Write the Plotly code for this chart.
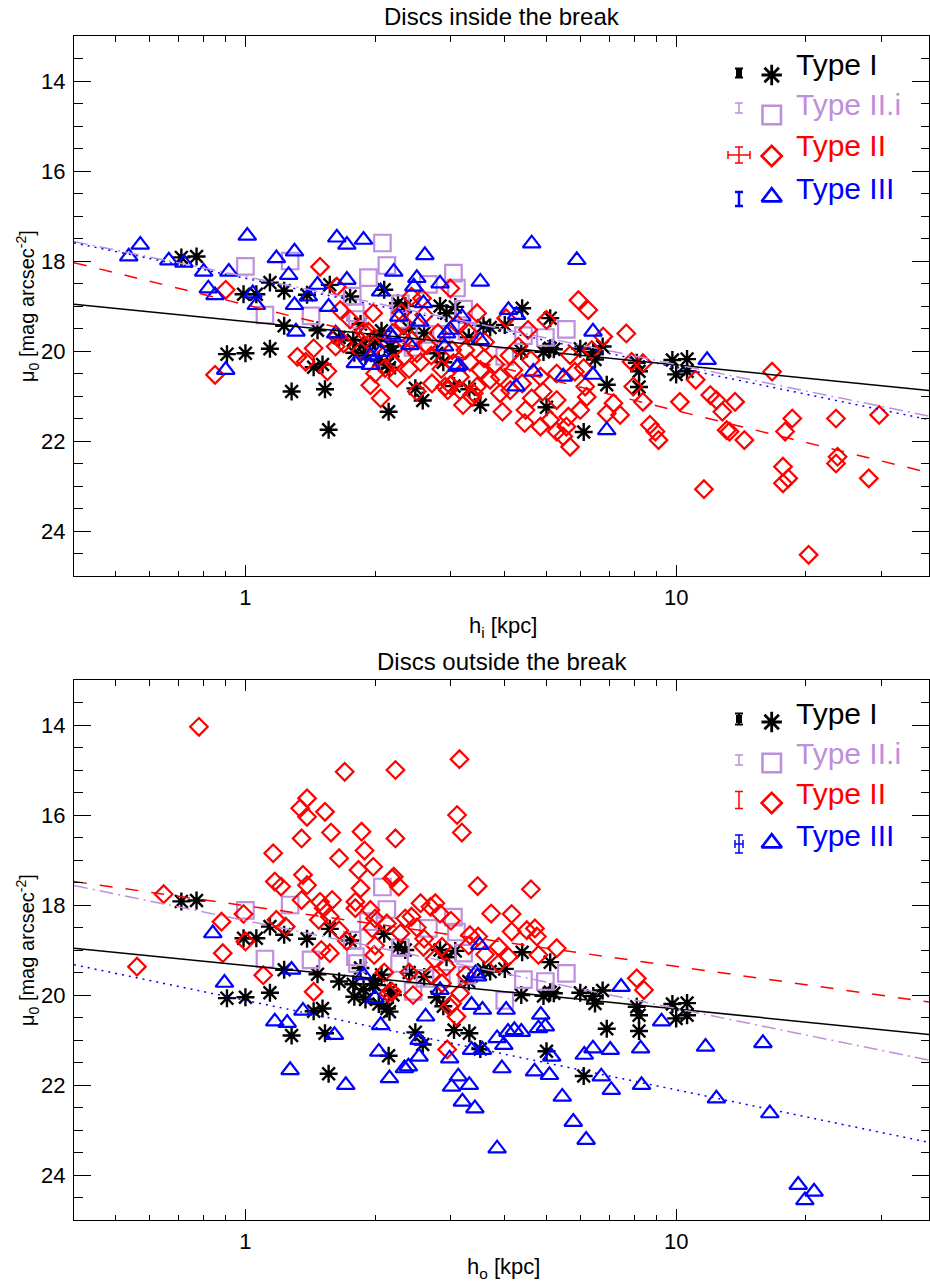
import numpy as np
import plotly.graph_objects as go

# ---------------- data (h [kpc], mu0 [mag arcsec^-2]) ----------------
TYPE_I = [(0.71,17.92),(0.77,17.9),(0.99,18.74),(1.06,18.74),(1.14,18.48),(1.23,18.66),(1.39,18.75),
          (1.57,18.53),(1.23,19.44),(1.47,19.54),(0.906,20.07),(1.0,20.05),(1.14,19.95),(1.28,20.9),
          (1.53,20.85),(1.44,20.36),(1.51,20.3),(1.56,21.75),(2.15,21.35),(2.48,20.83),(2.58,21.1),
          (1.75,18.79),(1.78,19.76),(1.88,19.87),(1.98,19.76),(2.07,19.55),(2.17,19.9),(2.04,20.2),
          (2.13,20.3),(2.1,18.64),(2.26,18.94),(2.35,19.0),(2.83,19.0),(2.93,19.16),(2.78,20.05),
          (2.88,20.25),(3.07,19.02),(4.39,19.05),(5.1,19.27),(3.57,19.44),(3.7,19.48),(4.0,19.42),
          (4.92,20.02),(5.1,19.94),(5.99,19.95),(6.42,20.02),(6.9,20.75),(8.1,20.26),(8.2,20.8),
          (9.8,20.2),(10.6,20.18),(10.0,20.52),(10.6,20.45),(3.51,21.2),(5.0,21.25),(6.1,21.8),
          (8.2,20.45),(6.75,19.9),(3.05,20.78),(3.31,20.85),(4.37,20.0),(5.2,19.96),(2.0,19.78),
          (1.79,20.04),(2.16,20.37),(6.48,20.19),(1.65,19.7),(1.9,20.1),(2.4,19.5),(2.6,19.6),
          (3.3,19.7),(2.2,20.0),(1.85,19.4)]

TYPE_IIi = [(1.0,18.12),(1.11,19.2),(1.27,18.0),(1.42,19.22),(1.93,18.37),(2.08,17.6),(2.13,18.1),
            (1.77,18.78),(1.8,19.15),(1.82,19.3),(2.29,18.95),(2.28,19.3),(2.66,18.52),(3.04,18.27),
            (3.09,18.6),(3.21,19.07),(2.45,19.92),(2.61,19.63),(2.85,19.63),(3.27,19.56),(4.0,20.12),
            (4.42,19.66),(4.97,19.7),(5.56,19.52)]

TYPE_II_IN = [(0.85,20.53),(0.9,18.64),(1.49,18.13),(1.32,20.13),(1.38,20.24),(1.44,19.94),(1.62,19.9),
              (1.69,19.83),(1.95,20.76),(2.06,21.05),(1.93,19.57),(2.11,20.38),(2.71,20.72),(2.91,20.79),
              (2.99,18.61),(3.32,20.24),(3.39,20.94),(3.45,19.16),(1.63,19.68),(1.63,18.57),(1.66,19.09),
              (1.98,19.16),(2.33,19.76),(2.43,18.79),(2.57,18.83),(3.04,20.27),(2.5,20.05),(2.64,19.87),
              (3.02,19.98),(1.88,19.57),(2.33,19.39),(2.95,20.87),(3.15,20.57),(2.43,19.76),(2.33,20.13),
              (2.21,20.27),(5.93,18.87),(6.25,19.09),(7.66,19.61),(5.0,19.31),(6.77,19.68),(6.37,19.98),
              (5.67,20.09),(7.88,20.24),(8.37,20.27),(7.95,20.79),(8.37,21.13),(8.69,21.64),(8.95,21.79),
              (9.1,21.98),(7.15,21.16),(7.41,21.42),(6.9,21.39),(6.2,21.02),(5.99,21.31),(5.62,21.46),
              (5.56,21.68),(5.47,21.9),(5.67,22.13),(4.84,21.68),(5.1,21.53),(5.28,21.09),(4.47,21.31),
              (4.62,21.05),(4.39,20.72),(4.12,20.87),(3.9,20.94),(4.19,20.42),(3.9,20.57),(3.7,20.64),
              (3.45,20.79),(3.36,21.02),(3.51,20.42),(3.58,20.16),(3.24,19.98),(2.99,20.76),(3.15,20.87),
              (5.28,20.5),(5.82,20.46),(6.1,20.38),(6.15,20.79),(4.84,20.57),(5.28,21.79),(4.53,19.53),
              (4.03,19.27),(16.7,20.46),(11.1,20.64),(10.2,21.13),(12.0,20.98),(12.4,21.09),(13.7,21.13),
              (12.8,21.35),(13.1,21.76),(13.3,21.79),(14.4,21.98),(18.6,21.5),(17.9,21.79),(23.5,21.5),
              (29.6,21.42),(23.7,22.35),(23.5,22.5),(17.7,22.57),(18.2,22.83),(17.7,22.94),(28.0,22.83),
              (11.6,23.07),(20.3,24.53),(1.75,19.3),(1.85,20.0),(2.0,19.9),(2.2,19.6),(2.25,20.6),
              (2.4,20.4),(2.55,20.25),(2.7,20.1),(2.8,19.6),(2.85,20.4),(3.1,19.4),(3.3,19.6),(3.6,19.8),
              (3.8,20.3),(4.1,20.1),(4.3,19.9),(4.6,20.2),(4.9,20.9),(2.3,19.15),(2.6,19.2),(1.55,20.45),
              (2.0,20.5),(3.2,21.2),(2.5,20.9),(4.45,21.6),(3.95,21.35)]

TYPE_III_IN = [(0.536,17.9),(0.57,17.64),(0.664,17.99),(0.72,18.04),(0.8,18.24),(0.82,18.61),(0.85,18.76),
               (0.915,18.24),(1.01,17.44),(1.04,18.72),(1.06,18.98),(0.9,20.42),(1.18,17.94),(1.3,17.79),
               (1.26,18.31),(1.3,18.98),(1.31,19.57),(1.4,18.79),(1.47,18.53),(1.56,19.02),(1.62,19.61),
               (1.63,17.48),(1.72,17.64),(1.88,17.53),(1.72,18.42),(1.8,20.27),(1.95,20.31),(2.06,18.68),
               (2.06,20.02),(2.21,18.24),(2.17,19.64),(2.27,19.24),(2.61,17.87),(2.5,18.38),(2.59,18.94),
               (2.54,19.35),(2.41,19.87),(2.83,18.5),(3.13,20.31),(3.51,18.46),(3.18,19.24),(2.46,18.57),
               (2.99,19.53),(3.1,20.35),(4.62,17.61),(5.88,17.98),(4.08,19.09),(4.26,19.2),(2.93,19.61),
               (6.41,19.57),(4.66,20.46),(5.47,20.57),(6.41,20.53),(4.25,20.79),(6.9,21.76),(11.8,20.2),
               (3.51,19.76),(2.9,19.9),(2.2,19.7),(1.95,20.1)]

TYPE_II_OUT = [(0.78,14.04),(0.646,17.76),(0.56,19.37),(0.88,18.37),(0.886,19.07),(0.99,18.2),(1.0,18.81),
               (1.1,19.56),(1.17,17.48),(1.21,17.59),(1.16,16.85),(1.18,18.33),(1.24,18.48),(1.35,16.52),
               (1.34,15.85),(1.39,15.63),(1.39,16.04),(1.53,15.93),(1.58,16.39),(1.65,16.96),(1.7,15.04),
               (1.86,16.37),(1.89,16.79),(1.98,17.15),(1.83,17.22),(2.23,15.0),(2.23,16.52),(1.36,17.33),
               (1.39,17.56),(1.35,17.89),(1.49,17.93),(1.59,17.89),(1.52,18.07),(1.57,18.26),(1.48,18.33),
               (1.65,18.56),(1.5,19.0),(1.57,19.07),(1.44,19.93),(1.8,17.93),(1.85,17.63),(1.8,18.07),
               (1.95,18.11),(1.97,18.52),(2.19,17.41),(1.99,19.11),(2.19,19.93),(3.14,14.76),(3.1,16.0),
               (3.18,16.39),(3.46,17.58),(4.6,17.65),(2.21,17.37),(2.27,17.59),(3.72,18.19),(4.15,18.2),
               (4.15,18.59),(4.5,18.56),(4.7,18.52),(4.75,18.7),(5.28,18.96),(3.87,18.93),(4.08,19.15),
               (4.79,19.11),(2.55,17.96),(2.69,18.04),(2.76,17.96),(2.83,18.19),(2.43,18.26),(2.29,18.63),
               (2.13,18.41),(2.59,18.93),(2.86,18.93),(3.32,18.67),(3.47,18.7),(3.87,19.3),(2.93,19.37),
               (2.86,19.74),(2.15,19.96),(3.02,20.19),(3.15,19.96),(8.1,19.63),(2.94,21.21),(2.98,20.26),
               (3.09,20.48),(8.42,19.89),(2.35,18.3),(2.5,18.5),(2.6,18.75),(2.75,19.2),(2.4,19.5),
               (3.0,18.35),(3.3,18.9),(3.6,19.1),(2.0,18.9),(2.1,19.5),(2.45,20.0),(2.7,19.55),(3.25,19.55),
               (2.0,18.3),(1.72,18.8)]

TYPE_III_OUT = [(0.84,18.63),(0.894,19.73),(1.28,19.44),(1.88,19.56),(2.0,20.07),(1.36,20.35),(1.17,20.59),
                (1.25,20.62),(1.61,20.89),(1.27,21.67),(1.71,22.0),(2.06,20.67),(2.04,21.26),(2.16,21.85),
                (2.34,21.63),(2.39,21.59),(2.53,21.37),(2.53,21.0),(2.62,20.48),(2.98,21.41),(3.12,21.81),
                (3.01,22.04),(3.31,22.0),(3.19,22.37),(3.41,22.52),(3.35,21.22),(3.55,21.22),(3.35,20.22),
                (3.55,20.33),(3.46,19.59),(3.84,20.96),(3.98,21.11),(4.03,20.33),(4.07,20.82),(4.21,20.78),
                (4.37,20.82),(3.84,23.41),(3.94,21.63),(4.69,21.7),(4.85,20.44),(4.79,20.74),(4.97,20.7),
                (5.08,21.78),(5.14,21.37),(5.44,22.26),(5.77,22.82),(6.18,23.22),(6.12,21.33),(6.41,21.19),
                (7.03,21.22),(6.7,21.81),(7.07,22.11),(8.27,21.19),(8.31,22.0),(7.45,19.82),(9.25,20.59),
                (11.7,21.15),(15.9,21.07),(12.4,22.3),(16.5,22.63),(19.2,24.22),(20.9,24.37),(19.9,24.56),
                (3.5,18.89),(3.42,19.52),(2.83,19.89)]

# linear fits mu0 = a + b*log10(h): (a, b)
FIT_I = (19.344, 0.967)
FIT_IIi = (18.346, 1.954)
FIT_II_IN = (18.973, 2.351)
FIT_III_IN = (18.385, 1.979)
FIT_II_OUT = (18.016, 1.349)
FIT_III_OUT = (20.119, 1.989)

LABELS = ["Type I", "Type II.i", "Type II", "Type III"]
TITLES = ["Discs inside the break", "Discs outside the break"]
XTITLES = ["h<sub>i</sub> [kpc]", "h<sub>o</sub> [kpc]"]
YTITLE = "μ<sub>0</sub> [mag arcsec<sup>-2</sup>]"

# ---------------- styles ----------------
BLACK, PURPLE, RED, BLUE = "#000000", "#BE8FDD", "#FF0000", "#0000FF"
FONT = "Liberation Sans, Arial, Helvetica, sans-serif"
STY = {
    "I":   dict(color=BLACK,  symbol="asterisk-open",    size=15, lw=2.4),
    "IIi": dict(color=PURPLE, symbol="square-open",      size=16.5, lw=2.2),
    "II":  dict(color=RED,    symbol="diamond-open",     size=13.5, lw=2.2),
    "III": dict(color=BLUE,   symbol="triangle-up-open", size=15.5, lw=2.2),
}
LINE_STY = {"I": "solid", "IIi": "14px,5px,2px,5px", "II": "13px,13px", "III": "2px,5px"}
XLOG = (-0.398, 1.587)

# plot area in pixels (figure 930 x 1281)
L, R, T, B = 74, 929, 36, 1220
def px(x):
    return (x - L) / (R - L)
def py(y):
    return (B - y) / (B - T)

fig = go.Figure()

def scatter(pts, key, xa, ya):
    s = STY[key]
    fig.add_trace(go.Scatter(
        x=[p[0] for p in pts], y=[p[1] for p in pts], mode="markers",
        xaxis=xa, yaxis=ya, hoverinfo="skip", cliponaxis=True,
        marker=dict(symbol=s["symbol"], size=s["size"], color=s["color"],
                    line=dict(color=s["color"], width=s["lw"]))))

def fitline(fit, key, xa, ya):
    xs = np.array([10 ** XLOG[0], 10 ** XLOG[1]])
    ys = fit[0] + fit[1] * np.log10(xs)
    fig.add_trace(go.Scatter(x=xs, y=ys, mode="lines", xaxis=xa, yaxis=ya, hoverinfo="skip",
                             line=dict(color=STY[key]["color"], width=1.5, dash=LINE_STY[key])))

panels = [("x", "y", TYPE_II_IN, TYPE_III_IN, FIT_II_IN, FIT_III_IN),
          ("x2", "y2", TYPE_II_OUT, TYPE_III_OUT, FIT_II_OUT, FIT_III_OUT)]
for xa, ya, t2, t3, f2, f3 in panels:
    scatter(TYPE_I, "I", xa, ya)
    scatter(TYPE_IIi, "IIi", xa, ya)
    scatter(t2, "II", xa, ya)
    scatter(t3, "III", xa, ya)
    fitline(FIT_I, "I", xa, ya)
    fitline(f2, "II", xa, ya)
    fitline(FIT_IIi, "IIi", xa, ya)
    fitline(f3, "III", xa, ya)

# ---------------- legend (pixel-space overlay axis x3/y3) ----------------
# rows: key, errbar (cx, cy, ex, ey, capw, thick), marker y, text y
LEGENDS = [
    [("I",   (739, 73, 2, 4.5, 4, 2.0), 75, 65),
     ("IIi", (739, 108, 0, 5, 4, 1.5), 115, 105),
     ("II",  (739, 155, 11, 8, 4, 1.5), 156, 146),
     ("III", (739, 199, 0, 7, 4, 2.5), 197, 188)],
    [("I",   (739, 719, 2, 5.5, 4, 2.0), 722, 713),
     ("IIi", (739, 760, 0, 5, 4, 1.5), 763, 754),
     ("II",  (739, 800, 0, 8.5, 4, 1.5), 803, 794),
     ("III", (739, 844, 4, 9, 4, 1.5), 843, 835)],
]
annotations = []
for rows in LEGENDS:
    for (key, eb, my, ty), lab in zip(rows, LABELS):
        c = STY[key]["color"]
        cx, cy, ex, ey, cw, th = eb
        fig.add_trace(go.Scatter(
            x=[cx], y=[cy], mode="markers", xaxis="x3", yaxis="y3", hoverinfo="skip",
            marker=dict(size=1, color="rgba(0,0,0,0)"),
            error_x=dict(type="data", array=[ex], visible=ex > 0, color=c, thickness=th, width=cw),
            error_y=dict(type="data", array=[ey], visible=True, color=c, thickness=th, width=cw)))
        s = STY[key]
        fig.add_trace(go.Scatter(
            x=[771.7], y=[my], mode="markers", xaxis="x3", yaxis="y3", hoverinfo="skip",
            marker=dict(symbol=s["symbol"], size=s["size"] + 2, color=c,
                        line=dict(color=c, width=s["lw"] + 0.4))))
        annotations.append(dict(x=px(794), y=py(ty), xref="paper", yref="paper", text=lab,
                                showarrow=False, xanchor="left", yanchor="middle",
                                font=dict(family=FONT, size=30, color=c)))

# titles and axis labels (paper coords so they can sit in the margins)
for title, xt, ty, xl_y, yl_y in [(TITLES[0], XTITLES[0], 17, 627, 306),
                                   (TITLES[1], XTITLES[1], 661, 1268, 950)]:
    annotations.append(dict(x=px(501.5), y=py(ty), xref="paper", yref="paper", text=title,
                            showarrow=False, xanchor="center", yanchor="middle",
                            font=dict(family=FONT, size=24, color="black")))
    annotations.append(dict(x=px(503), y=py(xl_y), xref="paper", yref="paper", text=xt,
                            showarrow=False, xanchor="center", yanchor="middle",
                            font=dict(family=FONT, size=22, color="black")))
    annotations.append(dict(x=px(27), y=py(yl_y), xref="paper", yref="paper", text=YTITLE,
                            showarrow=False, textangle=-90, xanchor="center", yanchor="middle",
                            font=dict(family=FONT, size=20, color="black")))

MINOR_X = [0.5, 0.6, 0.7, 0.8, 0.9, 2, 3, 4, 5, 6, 7, 8, 9, 20, 30]
def xaxis_cfg(anchor):
    return dict(type="log", range=list(XLOG), anchor=anchor, domain=[0, 1],
                tickvals=[1, 10], ticktext=["1", "10"], ticks="inside", ticklen=11, tickwidth=1,
                tickcolor="black", showline=True, linecolor="black", linewidth=1, mirror="ticks",
                showgrid=False, zeroline=False, ticklabelstandoff=2,
                tickfont=dict(family=FONT, size=22, color="black"),
                minor=dict(tickvals=MINOR_X, ticks="inside", ticklen=5.5, tickwidth=1,
                           tickcolor="black", showgrid=False))
def yaxis_cfg(anchor, dom):
    return dict(range=[25, 13], anchor=anchor, domain=dom,
                tickvals=[14, 16, 18, 20, 22, 24], ticks="inside", ticklen=17, tickwidth=1,
                tickcolor="black", showline=True, linecolor="black", linewidth=1, mirror="ticks",
                showgrid=False, zeroline=False, ticklabelstandoff=3,
                tickfont=dict(family=FONT, size=22, color="black"),
                minor=dict(dtick=0.5, tick0=13, ticks="inside", ticklen=8.5, tickwidth=1,
                           tickcolor="black", showgrid=False))

fig.update_layout(
    width=930, height=1281, showlegend=False,
    margin=dict(l=L, r=930 - R, t=T, b=1281 - B),
    paper_bgcolor="white", plot_bgcolor="rgba(0,0,0,0)",
    xaxis=xaxis_cfg("y"), yaxis=yaxis_cfg("x", [py(576), 1]),
    xaxis2=xaxis_cfg("y2"), yaxis2=yaxis_cfg("x2", [0, py(680)]),
    xaxis3=dict(range=[L, R], domain=[0, 1], anchor="y3", visible=False, fixedrange=True),
    yaxis3=dict(range=[B, T], domain=[0, 1], anchor="x3", visible=False, fixedrange=True),
    annotations=annotations,
)

fig.write_html("out.html", config={"displayModeBar": False},
               post_script="document.body.style.margin='0px';")
